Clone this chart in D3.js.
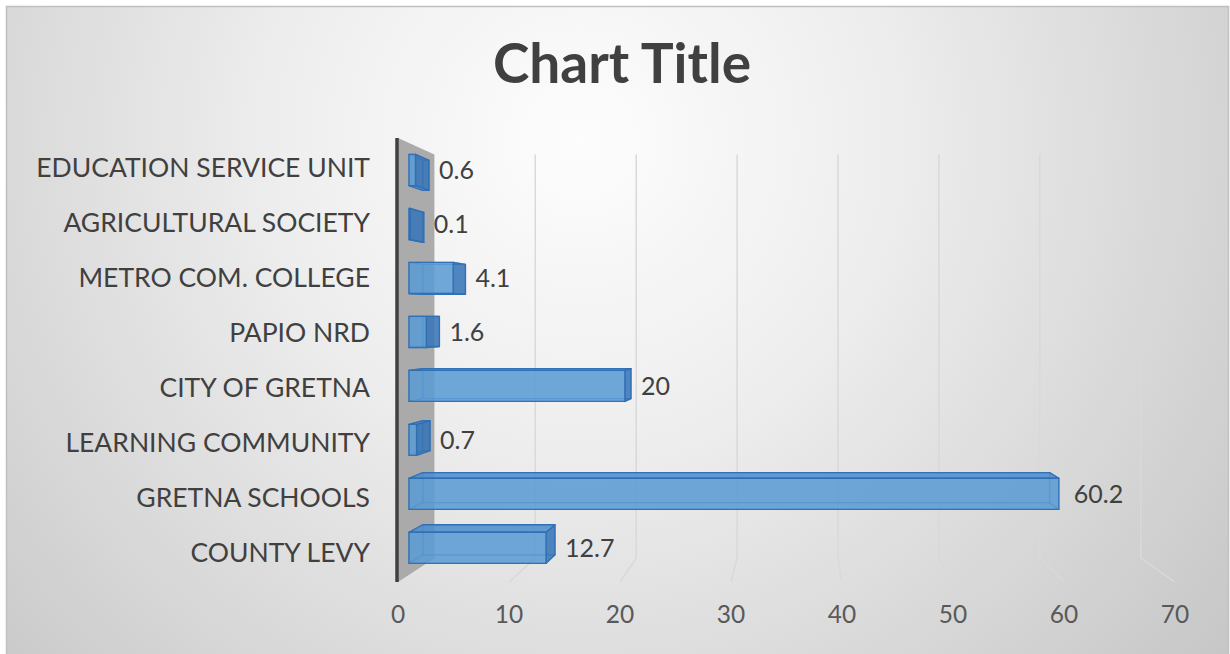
<!DOCTYPE html>
<html>
<head>
<meta charset="utf-8">
<script src="https://cdn.jsdelivr.net/npm/d3@7"></script>
<style>
  html, body { margin: 0; padding: 0; background: #ffffff; }
  svg { display: block; font-family: Lato, "Open Sans", sans-serif; }
</style>
</head>
<body>
<div id="chart"></div>
<script>
"use strict";

var title = "Chart Title";
var categories = ["COUNTY LEVY", "GRETNA SCHOOLS", "LEARNING COMMUNITY", "CITY OF GRETNA",
  "PAPIO NRD", "METRO COM. COLLEGE", "AGRICULTURAL SOCIETY", "EDUCATION SERVICE UNIT"];
var values = [12.7, 60.2, 0.7, 20, 1.6, 4.1, 0.1, 0.6];
var tickValues = [0, 10, 20, 30, 40, 50, 60, 70];

var width = 1230, height = 654;

// front plane of the 3d box, the back plane shrinks towards the vanishing point
var x = d3.scaleLinear().domain([0, 70]).range([398, 1175]);
var y = d3.scaleBand().domain(categories).range([582, 138])
  .paddingInner(0.423).paddingOuter(0.2115);
var vp = [798, 320];
var backScale = 0.909;
var barFront = 0.302, barBack = 0.68;

function project(px, py, z) {
  var s = 1 - (1 - backScale) * z;
  return [vp[0] + s * (px - vp[0]), vp[1] + s * (py - vp[1])];
}
function poly(pts) {
  return "M" + pts.map(function(p) { return p[0].toFixed(2) + "," + p[1].toFixed(2); }).join("L") + "Z";
}

var svg = d3.select("#chart").append("svg")
  .attr("width", width)
  .attr("height", height);

var defs = svg.append("defs");
var grad = defs.append("radialGradient")
  .attr("id", "bg")
  .attr("gradientUnits", "userSpaceOnUse")
  .attr("cx", 580).attr("cy", 140).attr("r", 860);
grad.append("stop").attr("offset", 0).attr("stop-color", "#fdfdfd");
grad.append("stop").attr("offset", 0.35).attr("stop-color", "#eeeeee");
grad.append("stop").attr("offset", 1).attr("stop-color", "#c4c4c4");

svg.append("rect")
  .attr("x", 6.5).attr("y", 6.5)
  .attr("width", 1222).attr("height", 680)
  .attr("fill", "url(#bg)")
  .attr("stroke", "#c0c0c0")
  .attr("stroke-width", 1.5);

svg.append("text")
  .attr("x", 622).attr("y", 83)
  .attr("text-anchor", "middle")
  .attr("font-size", 55)
  .attr("font-weight", "bold")
  .attr("fill", "#404040")
  .text(title);

var yTop = y.range()[1], yBottom = y.range()[0];

// back wall and floor gridlines
var grid = svg.append("g");
grid.selectAll("path")
  .data(tickValues.filter(function(t) { return t > 0; }))
  .enter().append("path")
  .attr("fill", "none")
  .attr("stroke", "#d9d9d9")
  .attr("stroke-width", 1.5)
  .attr("d", function(t) {
    var a = project(x(t), yTop, 1), b = project(x(t), yBottom, 1), c = project(x(t), yBottom, 0);
    return "M" + a + "L" + b + "L" + c;
  });

// side wall
svg.append("path")
  .attr("d", poly([project(x(0), yTop, 0), project(x(0), yTop, 1),
    project(x(0), yBottom, 1), project(x(0), yBottom, 0)]))
  .attr("fill", "#a6a6a6")
  .attr("fill-opacity", 0.95);

svg.append("line")
  .attr("x1", x(0) - 1).attr("x2", x(0) - 1)
  .attr("y1", yTop).attr("y2", yBottom)
  .attr("stroke", "#404040")
  .attr("stroke-width", 3.5);

// bars as transparent boxes
var data = categories.map(function(c, i) { return { cat: c, value: values[i] }; });

var bars = svg.selectAll(".bar")
  .data(data)
  .enter().append("g")
  .attr("class", "bar");

bars.each(function(d) {
  var g = d3.select(this);
  var x0 = x(0), x1 = x(d.value), y0 = y(d.cat), y1 = y(d.cat) + y.bandwidth();
  function F(px, py) { return project(px, py, barFront); }
  function B(px, py) { return project(px, py, barBack); }
  var faces = [];
  faces.push({ pts: [B(x0, y0), B(x1, y0), B(x1, y1), B(x0, y1)], kind: "hidden" });
  faces.push({ pts: [F(x0, y0), B(x0, y0), B(x0, y1), F(x0, y1)], kind: "hidden" });
  var endFace = { pts: [F(x1, y0), B(x1, y0), B(x1, y1), F(x1, y1)], kind: x1 < vp[0] ? "end" : "hidden" };
  var topFace = { pts: [F(x0, y0), F(x1, y0), B(x1, y0), B(x0, y0)], kind: y0 > vp[1] ? "top" : "hidden" };
  var botFace = { pts: [F(x0, y1), F(x1, y1), B(x1, y1), B(x0, y1)], kind: y1 < vp[1] ? "top" : "hidden" };
  [endFace, topFace, botFace].forEach(function(f) { if (f.kind === "hidden") faces.push(f); });
  [endFace, topFace, botFace].forEach(function(f) { if (f.kind !== "hidden") faces.push(f); });
  faces.push({ pts: [F(x0, y0), F(x1, y0), F(x1, y1), F(x0, y1)], kind: "front" });

  g.selectAll("path")
    .data(faces)
    .enter().append("path")
    .attr("d", function(f) { return poly(f.pts); })
    .attr("fill", function(f) {
      return f.kind === "end" ? "#3572b5" : f.kind === "top" ? "#4d8cd0" : "#5b9bd5";
    })
    .attr("fill-opacity", function(f) { return f.kind === "hidden" ? 0.35 : 0.8; })
    .attr("stroke", "#2e6fb4")
    .attr("stroke-opacity", function(f) { return f.kind === "hidden" ? 0.5 : 0.95; })
    .attr("stroke-width", 1.3)
    .attr("stroke-linejoin", "round");

  var cy = F(x0, y0 + y.bandwidth() / 2)[1];
  var right = Math.max(F(x1, y0)[0], B(x1, y0)[0]);
  g.append("text")
    .attr("x", right + (x1 > vp[0] ? 15 : 10))
    .attr("y", cy + 9)
    .attr("font-size", 25)
    .attr("fill", "#404040")
    .text(String(d.value));
});

// category labels
svg.selectAll(".cat")
  .data(categories)
  .enter().append("text")
  .attr("class", "cat")
  .attr("x", 370)
  .attr("y", function(c) { return project(x(0), y(c) + y.bandwidth() / 2, 0.1)[1] + 10; })
  .attr("text-anchor", "end")
  .attr("font-size", 26.5)
  .attr("fill", "#404040")
  .text(function(c) { return c; });

// value axis labels on the front edge
svg.selectAll(".tick")
  .data(tickValues)
  .enter().append("text")
  .attr("class", "tick")
  .attr("x", function(t) { return x(t); })
  .attr("y", 623)
  .attr("text-anchor", "middle")
  .attr("font-size", 24.5)
  .attr("fill", "#595959")
  .text(function(t) { return t; });
</script>
</body>
</html>
